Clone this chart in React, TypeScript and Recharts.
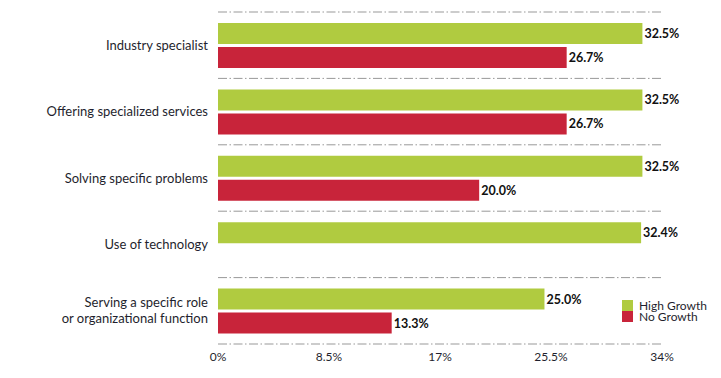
import React from 'react';
import { BarChart, Bar, XAxis, YAxis, CartesianGrid, LabelList, Legend } from 'recharts';

const categories = [
  'Industry specialist',
  'Offering specialized services',
  'Solving specific problems',
  'Use of technology',
  'Serving a specific role\nor organizational function',
];
const highGrowth = [32.5, 32.5, 32.5, 32.4, 25.0];
const noGrowth: (number | null)[] = [26.7, 26.7, 20.0, null, 13.3];
const xTicks = [0, 8.5, 17, 25.5, 34];
const seriesNames = ['High Growth', 'No Growth'];

const GREEN = '#b0cb40';
const RED = '#c8243a';
const FONT = 'Lato, "Open Sans", sans-serif';

const data = categories.map((name, i) => ({
  name,
  high: highGrowth[i],
  no: noGrowth[i],
}));

const CategoryTick = (props: any) => {
  const { x, y, payload } = props;
  const lines = String(payload.value).split('\n');
  const lh = 16;
  const start = -((lines.length - 1) * lh) / 2;
  return (
    <text x={x} y={y} textAnchor="end" fill="#1f1f2e" fontFamily={FONT} fontSize={13}>
      {lines.map((l, i) => (
        <tspan key={i} x={x} dy={i === 0 ? start + 4.5 : lh}>
          {l}
        </tspan>
      ))}
    </text>
  );
};

const LegendContent = () => (
  <div style={{ fontFamily: FONT, fontSize: 12, color: '#1f1f2e', lineHeight: '11px' }}>
    {[GREEN, RED].map((c, i) => (
      <div key={i} style={{ display: 'flex', alignItems: 'center', height: 11 }}>
        <span style={{ display: 'inline-block', width: 11, height: 11, background: c, marginRight: 6 }} />
        <span>{seriesNames[i]}</span>
      </div>
    ))}
  </div>
);

export default function App() {
  return (
    <div style={{ position: 'absolute', left: 0, top: 0, background: '#fff' }}>
      <BarChart
        width={721}
        height={378}
        data={data}
        layout="vertical"
        margin={{ top: 12, right: 59, bottom: 0, left: 0 }}
        barSize={21}
        barGap={3}
        barCategoryGap={10}
      >
        <CartesianGrid
          vertical={false}
          stroke="#999"
          strokeDasharray="9 2.5 1.5 2.5"
          horizontalCoordinatesGenerator={(p: any) =>
            [0, 1, 2, 3, 4, 5].map((i) => p.offset.top + (i * p.offset.height) / 5)
          }
        />
        <XAxis
          type="number"
          domain={[0, 34]}
          ticks={xTicks}
          tickFormatter={(v: number) => `${v}%`}
          axisLine={false}
          tickLine={false}
          height={34}
          interval={0}
          tick={{ fill: '#1f1f2e', fontSize: 12, fontFamily: FONT }}
        />
        <YAxis
          type="category"
          dataKey="name"
          width={218}
          axisLine={false}
          tickLine={false}
          tickMargin={4}
          interval={0}
          tick={<CategoryTick />}
        />
        <Legend
          content={<LegendContent />}
          wrapperStyle={{ left: 622, top: 300, width: 100, height: 0, bottom: 'auto', overflow: 'visible' }}
        />
        <Bar dataKey="high" name={seriesNames[0]} fill={GREEN} isAnimationActive={false}>
          <LabelList
            dataKey="high"
            position="right"
            offset={2}
            formatter={(v: any) => (v == null ? '' : `${Number(v).toFixed(1)}%`)}
            style={{ fontWeight: 700, fontSize: 12.5, fontFamily: FONT, fill: '#111' }}
          />
        </Bar>
        <Bar dataKey="no" name={seriesNames[1]} fill={RED} isAnimationActive={false}>
          <LabelList
            dataKey="no"
            position="right"
            offset={2}
            formatter={(v: any) => (v == null ? '' : `${Number(v).toFixed(1)}%`)}
            style={{ fontWeight: 700, fontSize: 12.5, fontFamily: FONT, fill: '#111' }}
          />
        </Bar>
      </BarChart>
    </div>
  );
}
